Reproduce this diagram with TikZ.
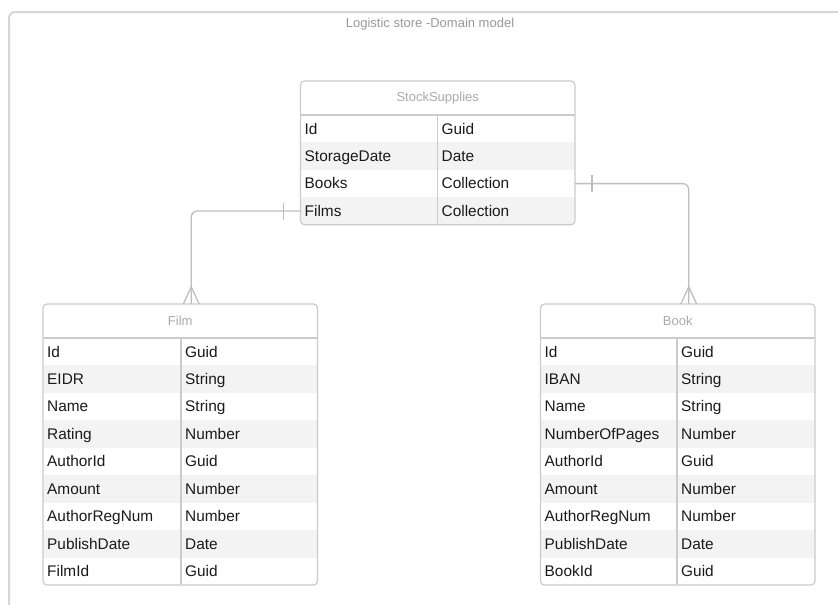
\documentclass[tikz,border=0pt]{standalone}
\usepackage{fontspec}
\setmainfont{Liberation Sans}
\usetikzlibrary{calc}

\definecolor{frameC}{HTML}{D6D6D6}
\definecolor{borderC}{HTML}{CBCBCB}
\definecolor{stripeC}{HTML}{F3F3F3}
\definecolor{headC}{HTML}{AAAAAA}
\definecolor{titleC}{HTML}{999999}
\definecolor{linkC}{HTML}{BEBEBE}
\definecolor{textC}{HTML}{1A1A1A}

\tikzset{
  fieldtext/.style={anchor=base west, inner sep=0pt, font=\fontsize{15.4}{18}\selectfont, text=textC},
  headtext/.style={anchor=center, inner sep=0pt, font=\fontsize{13}{16}\selectfont, text=headC},
  titletext/.style={anchor=center, inner sep=0pt, font=\fontsize{13}{16}\selectfont, text=titleC},
  tableframe/.style={draw=borderC, line width=1.2pt, rounded corners=4pt},
  tableline/.style={draw=borderC, line width=1.2pt},
  rowband/.style={inner sep=0pt, outer sep=0pt, anchor=north west, draw=none},
  link/.style={draw=linkC, line width=1.3pt},
  outerframe/.style={draw=frameC, line width=2pt, rounded corners=6pt},
}

% entity table: name, left, top, width, divider offset, row count, title, rows
\newcommand\erentity[8]{%
  \pgfmathsetmacro\entH{34+#6*27.45}%
  \node[rowband, minimum width=#4pt, minimum height=\entH pt] (#1) at (#2,#3) {};
  \begin{scope}
    \clip[rounded corners=4pt] (#2,#3) rectangle ++(#4,\entH);
    \foreach \fld/\typ [count=\i] in {#8} {
      \pgfmathsetmacro\yy{#3+34+(\i-1)*27.45}
      \ifodd\i\def\bandfill{white}\else\def\bandfill{stripeC}\fi
      \node[rowband, fill=\bandfill, minimum width=#4pt, minimum height=27.45pt]
        (#1-r\i) at (#2,\yy) {};
      \node[fieldtext] (#1-f\i) at (#2+4,\yy+19) {\fld};
      \node[fieldtext] (#1-t\i) at (#2+#5+4,\yy+19) {\typ};
    }
  \end{scope}
  \node[headtext] (#1-title) at (#2+#4/2,#3+17) {#7};
  \draw[tableline] (#2,#3+34) -- ++(#4,0);
  \draw[tableline] (#2+#5,#3+34) -- (#2+#5,#3+\entH);
  \draw[tableframe] (#2,#3) rectangle ++(#4,\entH);
}

\begin{document}
\begin{tikzpicture}[x=1pt, y=-1pt]
  \useasboundingbox (0,0) rectangle (838,605);
  \fill[white] (0,0) rectangle (838,605);
  \clip (0,0) rectangle (838,605);

  % outer diagram frame
  \draw[outerframe] (9,640) -- (9,12) -- (880,12);
  \node[titletext] (diagtitle) at (430,24) {Logistic store -Domain model};

  % entities
  \erentity{ss}{300.5}{81}{274.5}{137}{4}{StockSupplies}
    {Id/Guid, StorageDate/Date, Books/Collection, Films/Collection}
  \erentity{film}{43}{304}{274.5}{138}{9}{Film}
    {Id/Guid, EIDR/String, Name/String, Rating/Number, AuthorId/Guid,
     Amount/Number, AuthorRegNum/Number, PublishDate/Date, FilmId/Guid}
  \erentity{book}{540.5}{304}{274.5}{136.5}{9}{Book}
    {Id/Guid, IBAN/String, Name/String, NumberOfPages/Number, AuthorId/Guid,
     Amount/Number, AuthorRegNum/Number, PublishDate/Date, BookId/Guid}

  % relationship end points
  \coordinate (film-in) at ($(film.north)+(11,0)$);
  \coordinate (book-in) at ($(book.north)+(11,0)$);

  % StockSupplies.Films -> Film
  \draw[link, rounded corners=6pt] (ss-r4.west) -| (film-in);
  \draw[link] ($(ss-r4.west)+(-17,-8.5)$) -- ++(0,17);
  \draw[link] ($(film-in)+(-8,0)$) -- ($(film-in)+(0,-17)$) -- ($(film-in)+(8,0)$);

  % StockSupplies.Books -> Book
  \draw[link, rounded corners=6pt] (ss-r3.east) -| (book-in);
  \draw[link] ($(ss-r3.east)+(17,-8.5)$) -- ++(0,17);
  \draw[link] ($(book-in)+(-8,0)$) -- ($(book-in)+(0,-17)$) -- ($(book-in)+(8,0)$);
\end{tikzpicture}
\end{document}
